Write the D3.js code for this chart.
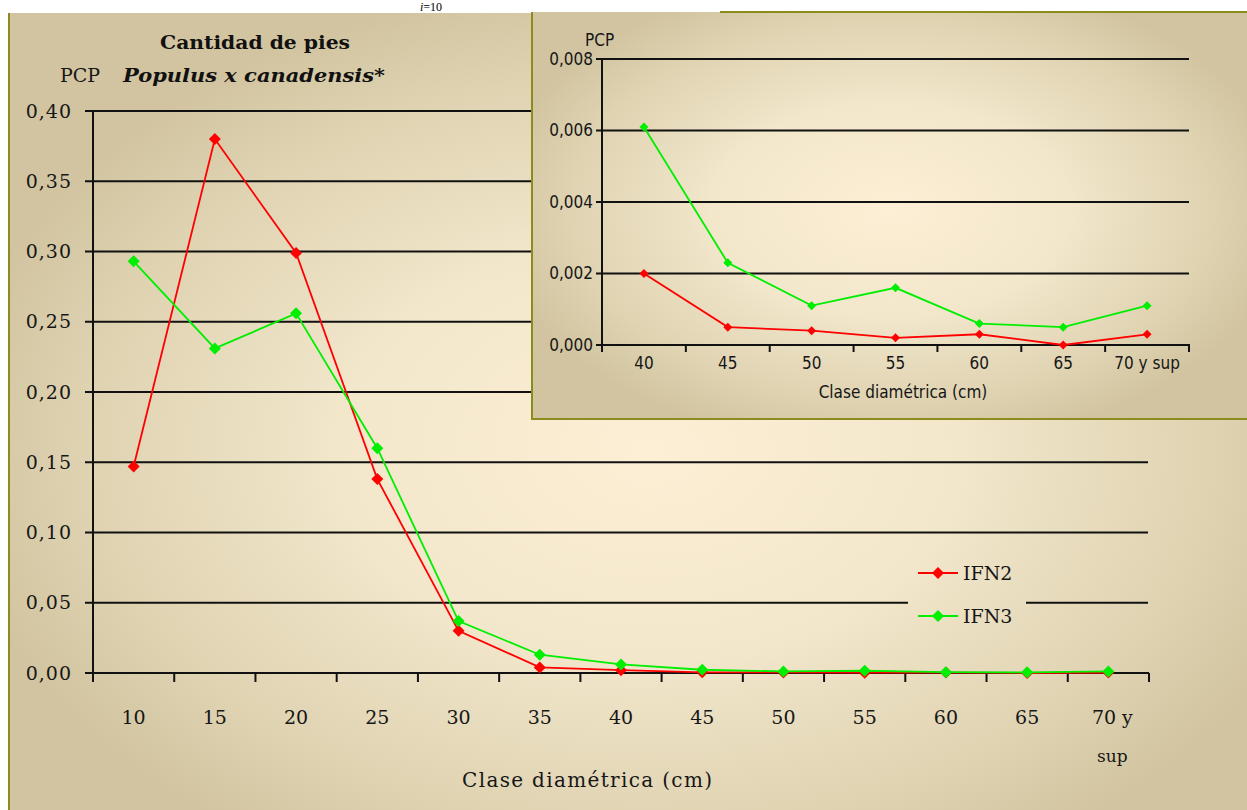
<!DOCTYPE html>
<html>
<head>
<meta charset="utf-8">
<script src="https://cdn.jsdelivr.net/npm/d3@7"></script>
<style>
  body { margin: 0; background: #fff; }
  svg { display: block; }
</style>
</head>
<body>
<div id="chart"></div>
<script>
// Diameter classes and PCP values (main chart)
const classes = ["10", "15", "20", "25", "30", "35", "40", "45", "50", "55", "60", "65", "70 y sup"];
const ifn2 = [0.147, 0.380, 0.299, 0.138, 0.030, 0.004, 0.0020, 0.0005, 0.0004, 0.0002, 0.0003, 0.0000, 0.0003];
const ifn3 = [0.293, 0.231, 0.256, 0.160, 0.037, 0.013, 0.0061, 0.0023, 0.0011, 0.0016, 0.0006, 0.0005, 0.0011];
const mainTicks = [0, 0.05, 0.10, 0.15, 0.20, 0.25, 0.30, 0.35, 0.40];

// Inset: classes 40 and up
const insetClasses = ["40", "45", "50", "55", "60", "65", "70 y sup"];
const insetIfn2 = [0.0020, 0.0005, 0.0004, 0.0002, 0.0003, 0.0000, 0.0003];
const insetIfn3 = [0.0061, 0.0023, 0.0011, 0.0016, 0.0006, 0.0005, 0.0011];
const insetTicks = [0, 0.002, 0.004, 0.006, 0.008];

const seriesNames = ["IFN2", "IFN3"];
const seriesColors = ["#ff0000", "#00ee00"];

const width = 1247, height = 810;
const comma = d3.formatLocale({ decimal: ",", thousands: ".", grouping: [3], currency: ["", ""] });

const svg = d3.select("#chart").append("svg")
    .attr("width", width)
    .attr("height", height);

const defs = svg.append("defs");

// Background gradients (user space so the legend box blends in)
function addGradient(id, cx, cy, rx, ry) {
  const g = defs.append("radialGradient")
      .attr("id", id)
      .attr("gradientUnits", "userSpaceOnUse")
      .attr("cx", 0).attr("cy", 0).attr("r", 1)
      .attr("gradientTransform", "translate(" + cx + "," + cy + ") scale(" + rx + "," + ry + ")");
  g.append("stop").attr("offset", 0).attr("stop-color", "#fcefd5");
  g.append("stop").attr("offset", 0.45).attr("stop-color", "#f2e6cb");
  g.append("stop").attr("offset", 0.8).attr("stop-color", "#dfd3b2");
  g.append("stop").attr("offset", 1).attr("stop-color", "#d2c4a0");
}
addGradient("bgMain", 650, 450, 700, 470);
addGradient("bgInset", 890, 210, 400, 240);

// "i=10" fragment at the very top
const frag = svg.append("text")
    .attr("x", 420).attr("y", 11)
    .style("font-family", "'Liberation Serif', serif")
    .style("font-size", "12px");
frag.append("tspan").style("font-style", "italic").text("i");
frag.append("tspan").text("=10");

// Main panel
svg.append("rect")
    .attr("x", 8).attr("y", 13)
    .attr("width", width - 8).attr("height", height - 13)
    .attr("fill", "url(#bgMain)");
svg.append("line")
    .attr("x1", 9).attr("x2", 9).attr("y1", 13).attr("y2", height)
    .attr("stroke", "#8c8c1e").attr("stroke-width", 2);

// Main scales
const x = d3.scaleBand().domain(classes).range([93, 1149]);
const y = d3.scaleLinear().domain([0, 0.40]).range([673, 111]);
const serif = "'DejaVu Serif', serif";
const ink = "#161616";

const main = svg.append("g");

// gridlines
main.selectAll(".grid")
  .data(mainTicks.filter(d => d > 0))
  .enter().append("line")
    .attr("x1", x.range()[0]).attr("x2", x.range()[1] - 1)
    .attr("y1", d => y(d)).attr("y2", d => y(d))
    .attr("stroke", "#111").attr("stroke-width", 2);

// y axis
main.append("line")
    .attr("x1", 93).attr("x2", 93).attr("y1", y(0.40)).attr("y2", y(0))
    .attr("stroke", "#111").attr("stroke-width", 2);
main.selectAll(".ytick")
  .data(mainTicks)
  .enter().append("line")
    .attr("x1", 85).attr("x2", 93)
    .attr("y1", d => y(d)).attr("y2", d => y(d))
    .attr("stroke", "#111").attr("stroke-width", 2);
main.selectAll(".ylab")
  .data(mainTicks)
  .enter().append("text")
    .attr("x", 72).attr("y", d => y(d))
    .attr("dy", "0.35em")
    .attr("text-anchor", "end")
    .style("font-family", serif).style("font-size", "19px")
    .style("letter-spacing", "1px")
    .attr("fill", ink)
    .text(d => comma.format(".2f")(d));

// x axis
main.append("line")
    .attr("x1", 92).attr("x2", 1149).attr("y1", y(0)).attr("y2", y(0))
    .attr("stroke", "#111").attr("stroke-width", 2);
const bounds = classes.map(c => x(c)).concat([x.range()[1]]);
main.selectAll(".xtick")
  .data(bounds)
  .enter().append("line")
    .attr("x1", d => d).attr("x2", d => d)
    .attr("y1", y(0)).attr("y2", y(0) + 9)
    .attr("stroke", "#111").attr("stroke-width", 2);
main.selectAll(".xlab")
  .data(classes)
  .enter().append("text")
    .attr("x", d => x(d) + x.bandwidth() / 2)
    .attr("y", 724)
    .attr("text-anchor", "middle")
    .style("font-family", serif).style("font-size", "19px")
    .attr("fill", ink)
    .each(function(d) {
      const t = d3.select(this);
      if (d === "70 y sup") {
        t.append("tspan").attr("x", x(d) + x.bandwidth() / 2 + 4).text("70 y");
        t.append("tspan").attr("x", x(d) + x.bandwidth() / 2 + 4).attr("dy", 38)
          .style("font-size", "17px").text("sup");
      } else {
        t.text(d);
      }
    });

main.append("text")
    .attr("x", 587).attr("y", 787)
    .attr("text-anchor", "middle")
    .style("font-family", serif).style("font-size", "20px")
    .attr("textLength", 250).attr("lengthAdjust", "spacing")
    .attr("fill", ink)
    .text("Clase diamétrica (cm)");

// titles
main.append("text")
    .attr("x", 255).attr("y", 49)
    .attr("text-anchor", "middle")
    .style("font-family", serif).style("font-size", "19px").style("font-weight", "bold")
    .attr("textLength", 190).attr("lengthAdjust", "spacingAndGlyphs")
    .attr("fill", "#111")
    .text("Cantidad de pies");
main.append("text")
    .attr("x", 60).attr("y", 82)
    .style("font-family", serif).style("font-size", "19px")
    .attr("fill", ink)
    .text("PCP");
main.append("text")
    .attr("x", 123).attr("y", 82)
    .style("font-family", serif).style("font-size", "19px")
    .style("font-weight", "bold").style("font-style", "italic")
    .attr("textLength", 262).attr("lengthAdjust", "spacingAndGlyphs")
    .attr("fill", "#111")
    .text("Populus x canadensis*");

// series
function diamond(s) {
  return "M0," + (-s) + "L" + s + ",0L0," + s + "L" + (-s) + ",0Z";
}
function drawSeries(g, xs, ys, cats, vals, color, lw, ms) {
  const line = d3.line()
      .x((d, i) => xs(cats[i]) + xs.bandwidth() / 2)
      .y(d => ys(d));
  g.append("path")
      .attr("d", line(vals))
      .attr("fill", "none")
      .attr("stroke", color)
      .attr("stroke-width", lw);
  g.selectAll(null)
    .data(vals)
    .enter().append("path")
      .attr("d", diamond(ms))
      .attr("transform", (d, i) => "translate(" + (xs(cats[i]) + xs.bandwidth() / 2) + "," + ys(d) + ")")
      .attr("fill", color);
}
drawSeries(main, x, y, classes, ifn2, seriesColors[0], 1.8, 6);
drawSeries(main, x, y, classes, ifn3, seriesColors[1], 1.8, 6);

// legend
const legend = svg.append("g");
legend.append("rect")
    .attr("x", 908).attr("y", 553).attr("width", 118).attr("height", 84)
    .attr("fill", "url(#bgMain)");
const legItems = legend.selectAll(".leg")
  .data(seriesNames)
  .enter().append("g")
    .attr("transform", (d, i) => "translate(918," + (573 + i * 43) + ")");
legItems.append("line")
    .attr("x1", 0).attr("x2", 40)
    .attr("stroke", (d, i) => seriesColors[i]).attr("stroke-width", 2);
legItems.append("path")
    .attr("d", diamond(6))
    .attr("transform", "translate(20,0)")
    .attr("fill", (d, i) => seriesColors[i]);
legItems.append("text")
    .attr("x", 45).attr("dy", "0.35em")
    .style("font-family", serif).style("font-size", "19px")
    .attr("fill", ink)
    .text(d => d);

// Inset panel
const inset = svg.append("g");
inset.append("rect")
    .attr("x", 532).attr("y", 12)
    .attr("width", width - 532).attr("height", 407)
    .attr("fill", "url(#bgInset)");
inset.append("line")
    .attr("x1", 532).attr("x2", 532).attr("y1", 12).attr("y2", 420)
    .attr("stroke", "#8c8c1e").attr("stroke-width", 2);
inset.append("line")
    .attr("x1", 531).attr("x2", width).attr("y1", 419).attr("y2", 419)
    .attr("stroke", "#8c8c1e").attr("stroke-width", 2);
inset.append("line")
    .attr("x1", 720).attr("x2", width).attr("y1", 12).attr("y2", 12)
    .attr("stroke", "#8c8c1e").attr("stroke-width", 2);

const xi = d3.scaleBand().domain(insetClasses).range([602, 1189]);
const yi = d3.scaleLinear().domain([0, 0.008]).range([345, 59]);
const narrow = "'DejaVu Sans Condensed', 'Liberation Sans Narrow', sans-serif";

inset.selectAll(".igrid")
  .data(insetTicks.filter(d => d > 0))
  .enter().append("line")
    .attr("x1", 602).attr("x2", 1189)
    .attr("y1", d => yi(d)).attr("y2", d => yi(d))
    .attr("stroke", "#111").attr("stroke-width", 2);
inset.append("line")
    .attr("x1", 602).attr("x2", 602).attr("y1", yi(0.008)).attr("y2", yi(0))
    .attr("stroke", "#111").attr("stroke-width", 2);
inset.selectAll(".iytick")
  .data(insetTicks)
  .enter().append("line")
    .attr("x1", 596).attr("x2", 602)
    .attr("y1", d => yi(d)).attr("y2", d => yi(d))
    .attr("stroke", "#111").attr("stroke-width", 2);
inset.selectAll(".iylab")
  .data(insetTicks)
  .enter().append("text")
    .attr("x", 593).attr("y", d => yi(d))
    .attr("dy", "0.35em")
    .attr("text-anchor", "end")
    .style("font-family", narrow).style("font-size", "17px")
    .attr("fill", ink)
    .text(d => comma.format(".3f")(d));
inset.append("line")
    .attr("x1", 601).attr("x2", 1190).attr("y1", yi(0)).attr("y2", yi(0))
    .attr("stroke", "#111").attr("stroke-width", 2);
const ibounds = insetClasses.map(c => xi(c)).concat([xi.range()[1]]);
inset.selectAll(".ixtick")
  .data(ibounds)
  .enter().append("line")
    .attr("x1", d => d).attr("x2", d => d)
    .attr("y1", yi(0)).attr("y2", yi(0) + 7)
    .attr("stroke", "#111").attr("stroke-width", 2);
inset.selectAll(".ixlab")
  .data(insetClasses)
  .enter().append("text")
    .attr("x", d => xi(d) + xi.bandwidth() / 2)
    .attr("y", 369)
    .attr("text-anchor", "middle")
    .style("font-family", narrow).style("font-size", "17px")
    .attr("fill", ink)
    .text(d => d);
inset.append("text")
    .attr("x", 903).attr("y", 398)
    .attr("text-anchor", "middle")
    .style("font-family", narrow).style("font-size", "17px")
    .attr("fill", ink)
    .text("Clase diamétrica (cm)");
inset.append("text")
    .attr("x", 585).attr("y", 46)
    .style("font-family", narrow).style("font-size", "17px")
    .attr("fill", ink)
    .text("PCP");

drawSeries(inset, xi, yi, insetClasses, insetIfn2, seriesColors[0], 1.8, 4.5);
drawSeries(inset, xi, yi, insetClasses, insetIfn3, seriesColors[1], 1.8, 4.5);
</script>
</body>
</html>
